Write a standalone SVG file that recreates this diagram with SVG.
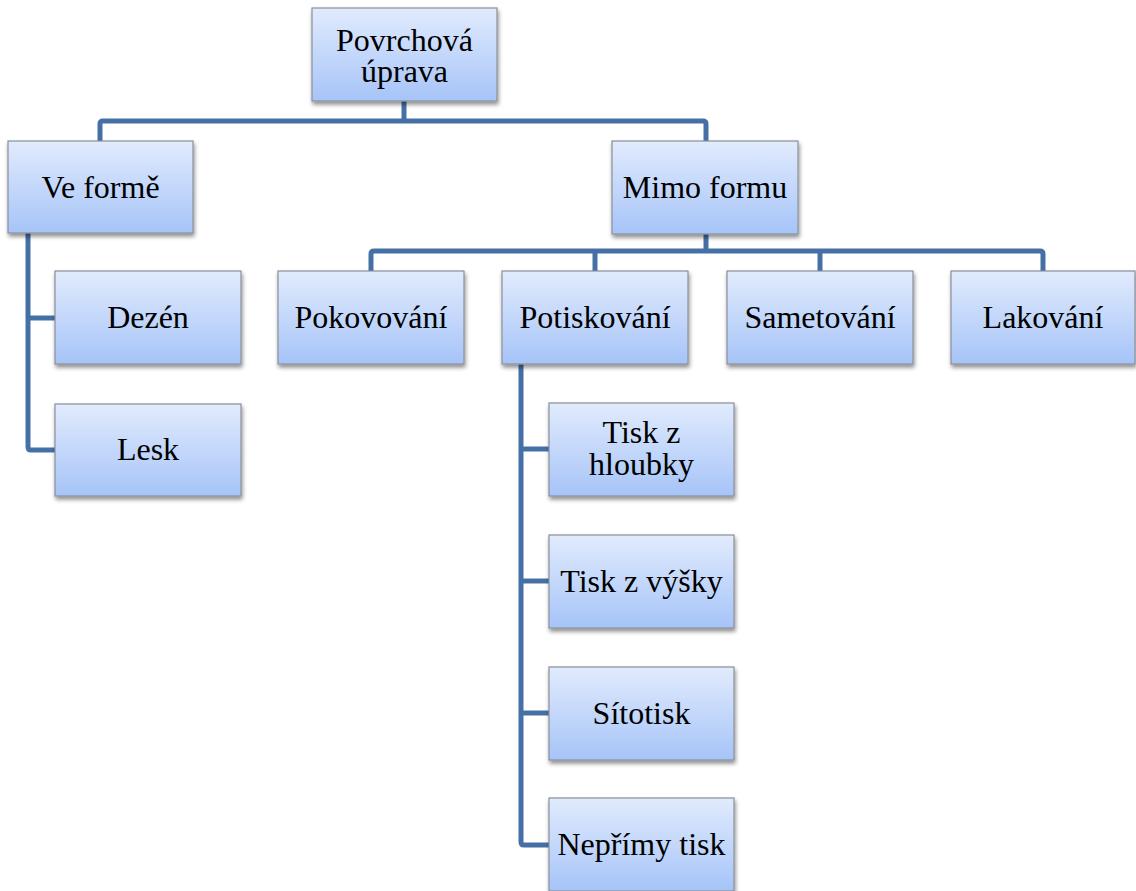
<svg xmlns="http://www.w3.org/2000/svg" width="1136" height="891" viewBox="0 0 1136 891">
  <defs>
    <linearGradient id="boxFill" x1="0" y1="0" x2="0" y2="1">
      <stop offset="0" stop-color="#e1ebfd"/>
      <stop offset="1" stop-color="#a6c4f8"/>
    </linearGradient>
    <filter id="shadow" x="-10%" y="-10%" width="125%" height="130%">
      <feGaussianBlur in="SourceAlpha" stdDeviation="2"/>
      <feOffset dx="1" dy="3" result="b"/>
      <feComponentTransfer><feFuncA type="linear" slope="0.45"/></feComponentTransfer>
      <feMerge><feMergeNode/><feMergeNode in="SourceGraphic"/></feMerge>
    </filter>
  </defs>
  <style>
    .box { fill: url(#boxFill); stroke: #8a8f99; stroke-width: 1.2; filter: url(#shadow); }
    .lbl { font-family: "Liberation Serif", "Times New Roman", serif; font-size: 32px; fill: #000; text-anchor: middle; }
    .conn { fill: none; stroke: #4570a6; stroke-width: 5; stroke-linejoin: round; }
  </style>
  <rect width="1136" height="891" fill="#ffffff"/>

  <g id="connectors">
    <path class="conn" d="M404 101 V121"/>
    <path class="conn" d="M100 141 V124 Q100 121 103 121 H703 Q706 121 706 124 V141"/>
    <path class="conn" d="M28 233 V447 Q28 450 31 450 H55"/>
    <path class="conn" d="M28 318 H55"/>
    <path class="conn" d="M706 234 V251"/>
    <path class="conn" d="M371 271 V254 Q371 251 374 251 H1040 Q1043 251 1043 254 V271"/>
    <path class="conn" d="M595 251 V271"/>
    <path class="conn" d="M820 251 V271"/>
    <path class="conn" d="M521 364 V842 Q521 845 524 845 H549"/>
    <path class="conn" d="M521 449 H549"/>
    <path class="conn" d="M521 581 H549"/>
    <path class="conn" d="M521 713 H549"/>
  </g>

  <g id="povrchova-uprava">
    <rect class="box" x="312" y="8" width="185" height="93"/>
    <text class="lbl" x="404.5" y="51">Povrchová</text>
    <text class="lbl" x="404.5" y="82">úprava</text>
  </g>
  <g id="ve-forme">
    <rect class="box" x="8" y="141" width="185" height="92"/>
    <text class="lbl" x="100.5" y="198">Ve formě</text>
  </g>
  <g id="mimo-formu">
    <rect class="box" x="612" y="141" width="186" height="93"/>
    <text class="lbl" x="705" y="198">Mimo formu</text>
  </g>
  <g id="dezen">
    <rect class="box" x="55" y="271" width="186" height="93"/>
    <text class="lbl" x="148" y="328">Dezén</text>
  </g>
  <g id="lesk">
    <rect class="box" x="55" y="404" width="186" height="92"/>
    <text class="lbl" x="148" y="460">Lesk</text>
  </g>
  <g id="pokovovani">
    <rect class="box" x="278" y="271" width="186" height="93"/>
    <text class="lbl" x="371" y="328">Pokovování</text>
  </g>
  <g id="potiskovani">
    <rect class="box" x="502" y="271" width="186" height="93"/>
    <text class="lbl" x="595" y="328">Potiskování</text>
  </g>
  <g id="sametovani">
    <rect class="box" x="727" y="271" width="186" height="93"/>
    <text class="lbl" x="820" y="328">Sametování</text>
  </g>
  <g id="lakovani">
    <rect class="box" x="951" y="271" width="184" height="93"/>
    <text class="lbl" x="1043" y="328">Lakování</text>
  </g>
  <g id="tisk-z-hloubky">
    <rect class="box" x="549" y="403" width="185" height="93"/>
    <text class="lbl" x="641.5" y="443">Tisk z</text>
    <text class="lbl" x="641.5" y="475">hloubky</text>
  </g>
  <g id="tisk-z-vysky">
    <rect class="box" x="549" y="535" width="185" height="93"/>
    <text class="lbl" x="641.5" y="592">Tisk z výšky</text>
  </g>
  <g id="sitotisk">
    <rect class="box" x="549" y="667" width="185" height="93"/>
    <text class="lbl" x="641.5" y="724">Sítotisk</text>
  </g>
  <g id="neprimy-tisk">
    <rect class="box" x="549" y="798" width="185" height="93"/>
    <text class="lbl" x="641.5" y="855">Nepřímy tisk</text>
  </g>
</svg>
